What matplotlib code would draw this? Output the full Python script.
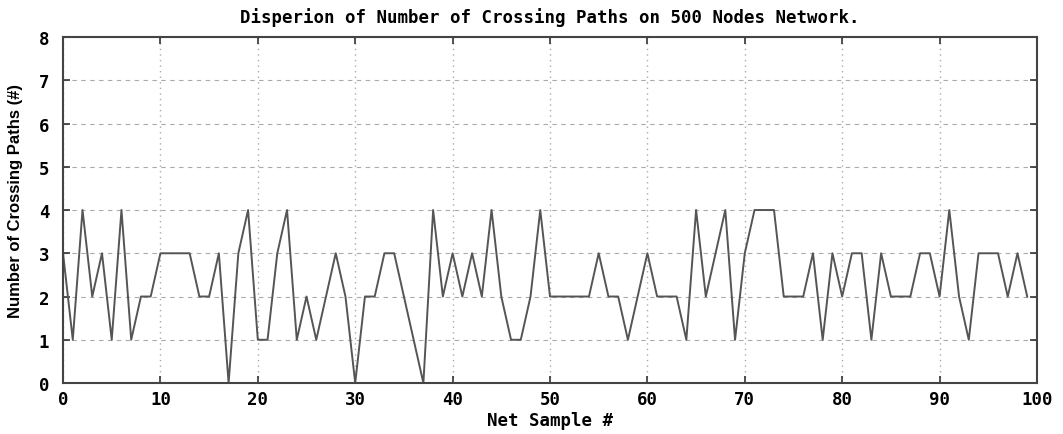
import numpy as np
import matplotlib
matplotlib.use("Agg")
import matplotlib.pyplot as plt

# crossing paths per net sample
samples = list(range(100))
crossings = [3, 1, 4, 2, 3, 1, 4, 1, 2, 2,
             3, 3, 3, 3, 2, 2, 3, 0, 3, 4,
             1, 1, 3, 4, 1, 2, 1, 2, 3, 2,
             0, 2, 2, 3, 3, 2, 1, 0, 4, 2,
             3, 2, 3, 2, 4, 2, 1, 1, 2, 4,
             2, 2, 2, 2, 2, 3, 2, 2, 1, 2,
             3, 2, 2, 2, 1, 4, 2, 3, 4, 1,
             3, 4, 4, 4, 2, 2, 2, 3, 1, 3,
             2, 3, 3, 1, 3, 2, 2, 2, 3, 3,
             2, 4, 2, 1, 3, 3, 3, 2, 3, 2]

xticks = list(range(0, 101, 10))
yticks = list(range(0, 9))

font = dict(family="DejaVu Sans Mono", fontweight="bold", fontsize=12.5)
yfont = dict(family="Liberation Sans", fontweight="bold", fontsize=12)

fig = plt.figure(figsize=(10.63, 4.35), dpi=100)
ax = fig.add_axes([0.0593, 0.1172, 0.9162, 0.7954])

ax.plot(samples, crossings, color="#555555", lw=1.4)

ax.set_xlim(0, 100)
ax.set_ylim(0, 8)
ax.set_xticks(xticks)
ax.set_yticks(yticks)
ax.set_xticklabels([str(t) for t in xticks], **font)
ax.set_yticklabels([str(t) for t in yticks], **font)

ax.yaxis.grid(True, ls=(0, (4, 4)), color="#aaaaaa", lw=0.8)
ax.xaxis.grid(True, ls=(0, (1, 3)), color="#aaaaaa", lw=1.0)

ax.tick_params(direction="in", length=5, width=1.2, color="#333333",
               top=True, right=True)
ax.tick_params(axis="x", pad=5)
ax.tick_params(axis="y", pad=10)
for s in ax.spines.values():
    s.set_color("#444444")
    s.set_linewidth(1.5)

ax.set_title("Disperion of Number of Crossing Paths on 500 Nodes Network.",
             pad=11, **font)
ax.set_xlabel("Net Sample #", labelpad=2, **font)
ax.set_ylabel("Number of Crossing Paths (#)", **yfont)
ax.yaxis.set_label_coords(-0.041, 0.53)

fig.savefig("out.png", dpi=100)
